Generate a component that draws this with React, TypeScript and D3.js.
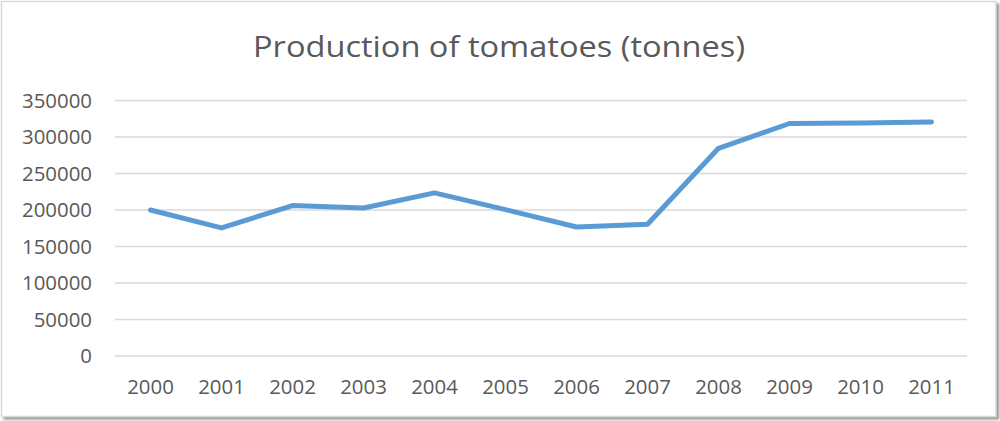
import React, { useEffect } from "react";
import * as d3 from "d3";

// Annual tomato production, tonnes
const years = ["2000", "2001", "2002", "2003", "2004", "2005", "2006", "2007", "2008", "2009", "2010", "2011"];
const production = [200000, 175500, 206000, 202700, 223500, 200500, 176700, 180400, 284500, 318500, 319300, 320500];
const yTicks = [0, 50000, 100000, 150000, 200000, 250000, 300000, 350000];
const title = "Production of tomatoes (tonnes)";

const W = 1000;
const H = 421;
const FONT = "'Open Sans', 'DejaVu Sans', sans-serif";
const TEXT = "#595959";
const GRID = "#d9d9d9";
const LINE = "#5b9bd5";

export default function App() {
  useEffect(() => {
    document.body.style.margin = "0";
  }, []);

  const x = d3.scaleBand<string>().domain(years).range([115, 967]);
  const cx = (d: string) => (x(d) ?? 0) + x.bandwidth() / 2;
  const y = d3.scaleLinear().domain([0, 350000]).range([356, 100.5]);

  const line = d3
    .line<number>()
    .x((_, i) => cx(years[i]))
    .y((v) => y(v));

  return (
    <svg width={W} height={H} style={{ position: "absolute", left: 0, top: 0, display: "block" }}>
      <defs>
        <filter id="frameShadow" x="-2%" y="-2%" width="104%" height="106%">
          <feDropShadow dx="2.5" dy="2.5" stdDeviation="1" floodColor="#7f7f7f" floodOpacity="0.8" />
        </filter>
      </defs>
      <rect x={0} y={0} width={W} height={H} fill="#fff" />
      <rect
        x={1.5}
        y={1.5}
        width={994.5}
        height={415}
        fill="#fff"
        stroke={GRID}
        strokeWidth={1.5}
        filter="url(#frameShadow)"
      />
      <text
        x={499}
        y={57}
        textAnchor="middle"
        fontFamily={FONT}
        fontSize={28.5}
        fill={TEXT}
        textLength={492}
        lengthAdjust="spacingAndGlyphs"
      >
        {title}
      </text>
      <g>
        {yTicks.map((t) => (
          <g key={t}>
            <line x1={115} x2={967} y1={y(t)} y2={y(t)} stroke={GRID} strokeWidth={1.4} />
            <text
              x={92}
              y={y(t)}
              dy="0.36em"
              textAnchor="end"
              fontFamily={FONT}
              fontSize={20.4}
              fill={TEXT}
            >
              {t}
            </text>
          </g>
        ))}
      </g>
      <g>
        {years.map((yr) => (
          <text key={yr} x={cx(yr)} y={394} textAnchor="middle" fontFamily={FONT} fontSize={20.4} fill={TEXT}>
            {yr}
          </text>
        ))}
      </g>
      <path
        d={line(production) ?? ""}
        fill="none"
        stroke={LINE}
        strokeWidth={5}
        strokeLinecap="round"
        strokeLinejoin="round"
      />
    </svg>
  );
}
